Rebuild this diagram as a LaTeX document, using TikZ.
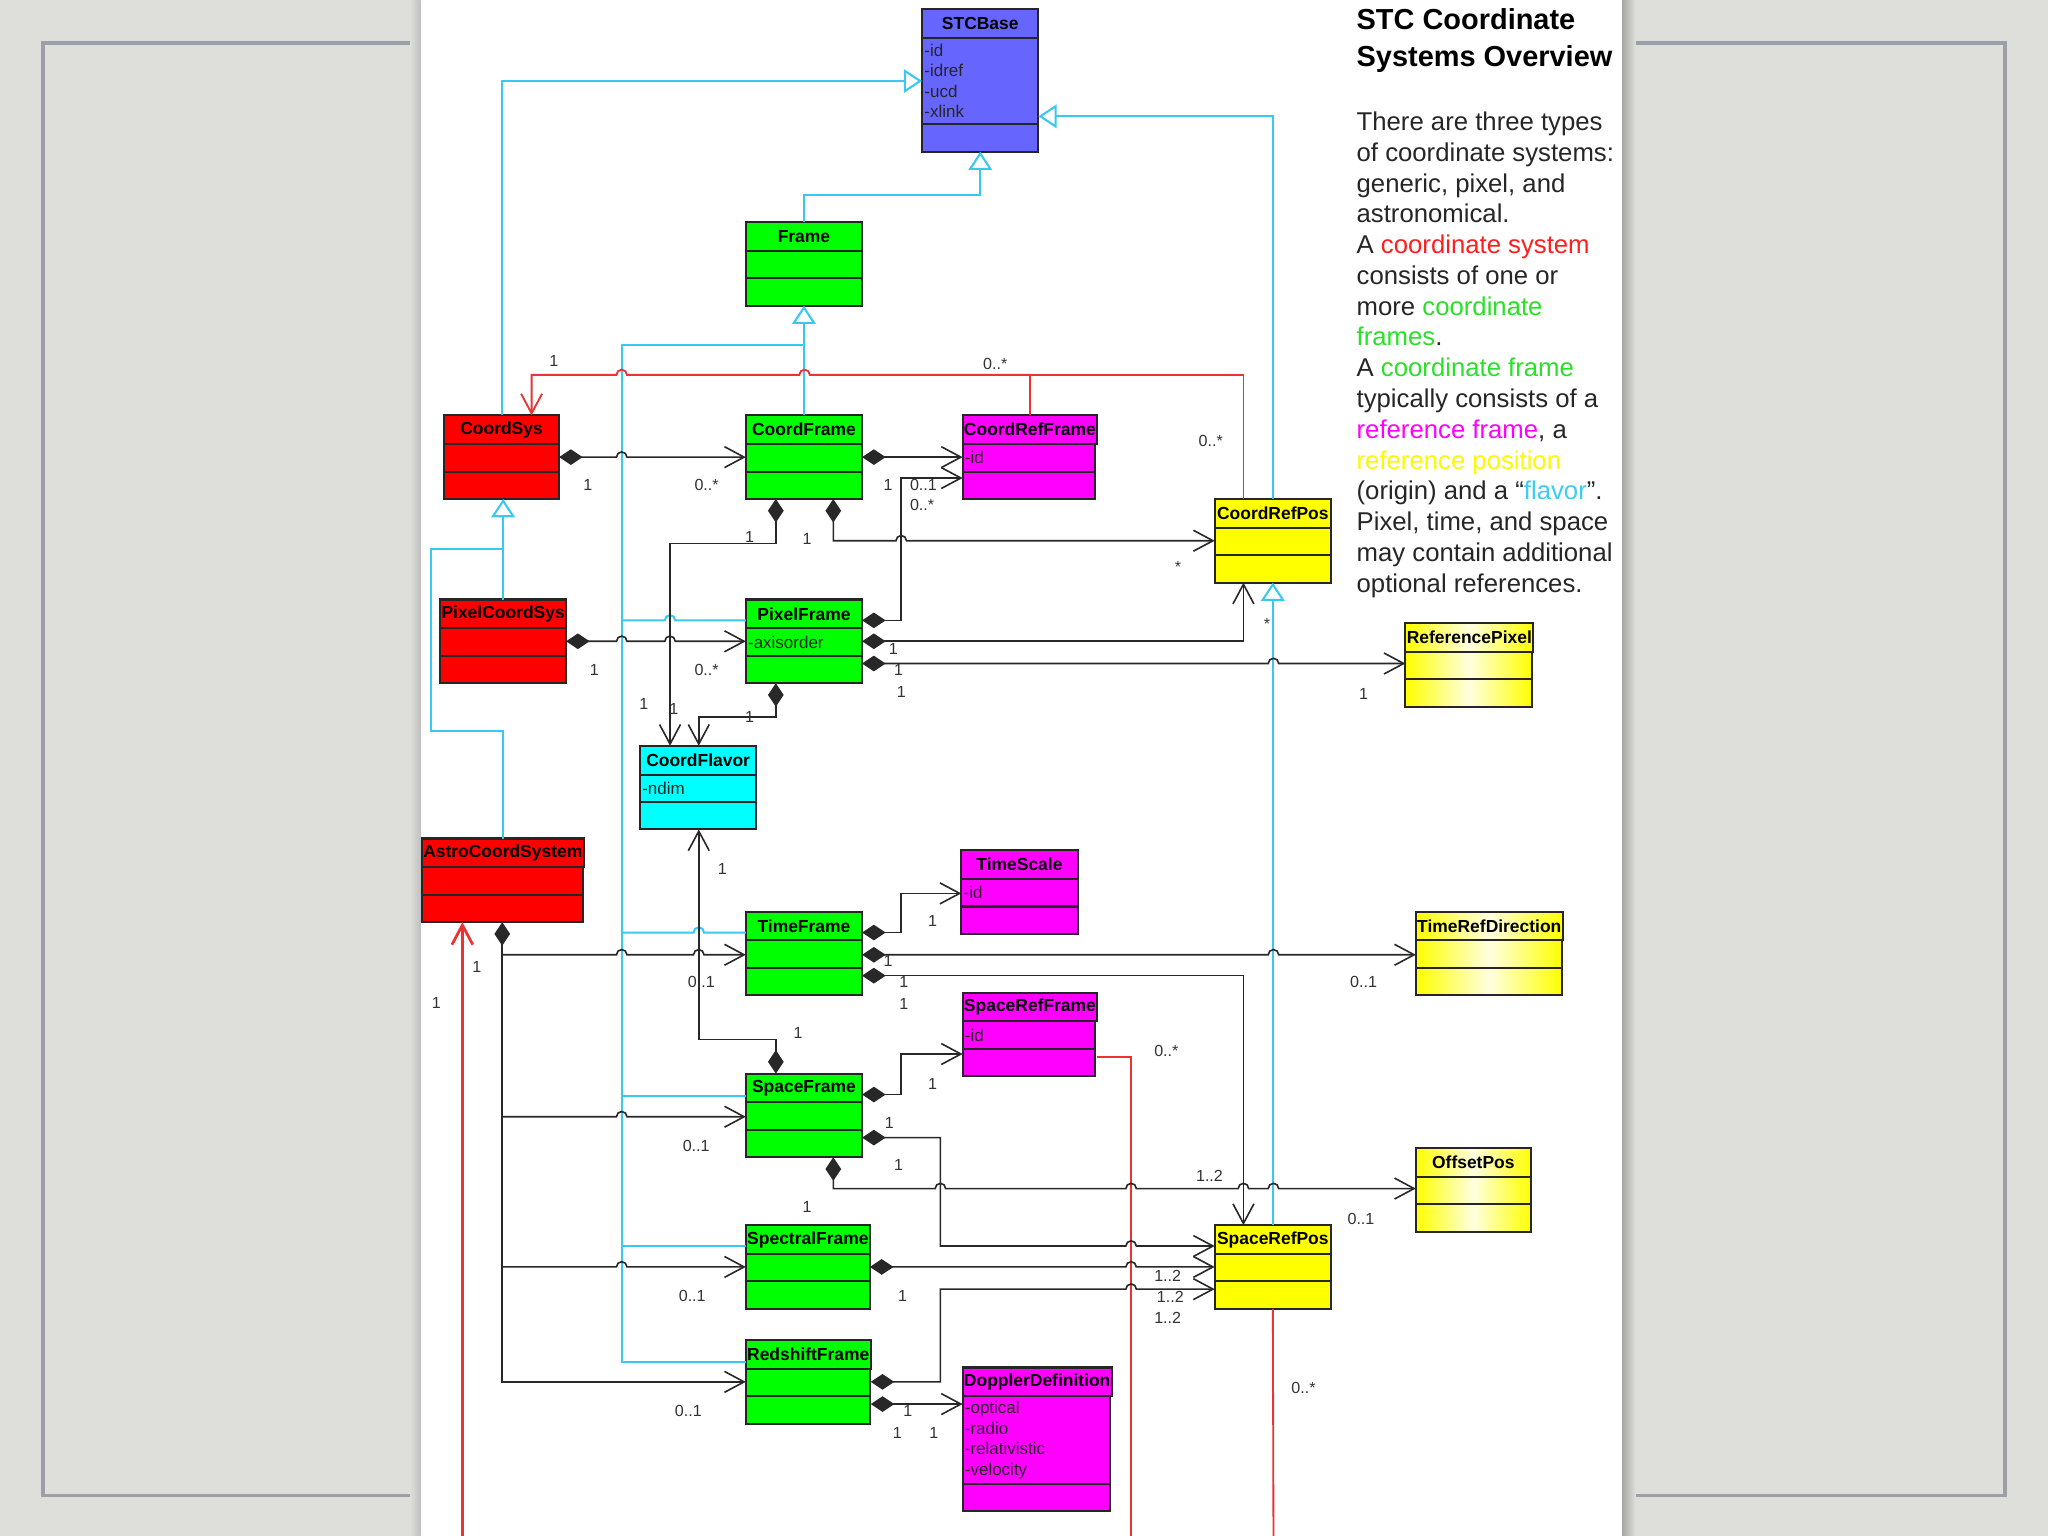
\documentclass[tikz,border=0pt]{standalone}
\usepackage{fontspec}
\setmainfont{Liberation Sans}
\usetikzlibrary{arrows.meta}

% Cores da figura
\definecolor{deskgray}{RGB}{222,223,218}
\definecolor{framegray}{RGB}{158,158,166}
\definecolor{boxblue}{RGB}{102,102,255}
\definecolor{boxgreen}{RGB}{0,255,0}
\definecolor{boxred}{RGB}{255,0,0}
\definecolor{boxmagenta}{RGB}{255,0,255}
\definecolor{boxyellow}{RGB}{255,255,0}
\definecolor{boxcyan}{RGB}{0,255,255}
\definecolor{inhcyan}{RGB}{56,200,240}
\definecolor{assocred}{RGB}{236,50,50}
\definecolor{linegray}{RGB}{40,40,40}
\definecolor{txtred}{RGB}{255,30,30}
\definecolor{txtgreen}{RGB}{40,225,40}
\definecolor{txtmagenta}{RGB}{255,0,255}
\definecolor{txtyellow}{RGB}{250,250,0}
\definecolor{txtcyan}{RGB}{60,205,245}

% Fontes
\newcommand{\classtitlefont}{\fontsize{3.8}{4.4}\selectfont\bfseries}
\newcommand{\attrfont}{\fontsize{3.7}{4.47}\selectfont}
\newcommand{\multfont}{\fontsize{3.5}{4}\selectfont}

\tikzset{
  classbox/.style={draw=black!85, line width=0.45pt, outer sep=0pt,
    inner xsep=0.3pt, inner ysep=0pt},
  attrtext/.style={font=\attrfont, inner sep=0.3pt, align=left, text=black!85},
  yellowshade/.style={left color=boxyellow, right color=boxyellow,
    middle color=boxyellow!12},
  inherit/.style={inhcyan, line width=0.45pt,
    -{Triangle[open, fill=white, length=0.14cm, width=0.18cm]}},
  cyanline/.style={inhcyan, line width=0.45pt},
  redline/.style={assocred, line width=0.4pt},
  redarrow/.style={redline, {Straight Barb[length=0.15cm, width=0.16cm]}-},
  assoc/.style={linegray, line width=0.35pt,
    -{Straight Barb[length=0.15cm, width=0.16cm]}},
  comp/.style={linegray, line width=0.35pt,
    {Diamond[length=0.18cm, width=0.12cm]}-{Straight Barb[length=0.15cm, width=0.16cm]}},
  mult/.style={font=\multfont, inner sep=0pt, text=black!80},
  desc/.style={font=\fontsize{5.6}{6.7}\selectfont, align=left, inner sep=0pt,
    anchor=north west, text=black!85},
}

% Classe UML: nome, preenchimento, canto, largura, altura dos atributos, titulo, atributos
\newcommand{\umlclass}[7]{%
  \node[classbox, #2, minimum width=#4, minimum height=0.22cm,
        font=\classtitlefont, anchor=north west] (#1) at (#3) {#6};
  \node[classbox, #2, minimum width=#4, minimum height=#5,
        anchor=north west] (#1-a) at (#1.south west) {};
  \node[attrtext, anchor=west] (#1-t) at (#1-a.west) {#7};
  \node[classbox, #2, minimum width=#4, minimum height=0.21cm,
        anchor=north west] (#1-o) at (#1-a.south west) {};
}

% Salto de linha num cruzamento
\newcommand{\linehop}[1]{-- ([xshift=-0.04cm]#1) arc[start angle=180, end angle=0, radius=0.04cm]}

\begin{document}
\begin{tikzpicture}[x=0.01cm, y=-0.01cm]
  % Mesa, moldura e folha branca
  \useasboundingbox (0,0) rectangle (1568,1176);
  \fill[deskgray] (0,0) rectangle (1568,1176);
  \draw[framegray, line width=0.7pt] (33,33) rectangle (1535,1145);
  \shade[left color=deskgray, right color=black!25] (314,0) rectangle (322,1176);
  \shade[left color=black!35, right color=deskgray] (1242,0) rectangle (1252,1176);
  \fill[white] (322,0) rectangle (1242,1176);

  % Texto explicativo
  \node[font=\fontsize{6.3}{8}\selectfont\bfseries, align=left, inner sep=0pt,
        anchor=north west] (title) at (1038,6) {STC Coordinate\\Systems Overview};
  \node[desc] (desc) at (1038,85) {There are three types\\
    of coordinate systems:\\
    generic, pixel, and\\
    astronomical.\\
    A \textcolor{txtred}{coordinate system}\\
    consists of one or\\
    more \textcolor{txtgreen}{coordinate}\\
    \textcolor{txtgreen}{frames}.\\
    A \textcolor{txtgreen}{coordinate frame}\\
    typically consists of a\\
    \textcolor{txtmagenta}{reference frame}, a\\
    \textcolor{txtyellow}{reference position}\\
    (origin) and a \textquotedblleft\textcolor{txtcyan}{flavor}\textquotedblright.\\
    Pixel, time, and space\\
    may contain additional\\
    optional references.};

  % Classes
  \umlclass{stc}{fill=boxblue}{706,7}{0.89cm}{0.66cm}{STCBase}{-id\\-idref\\-ucd\\-xlink}
  \umlclass{frame}{fill=boxgreen}{571,170}{0.89cm}{0.21cm}{Frame}{}
  \umlclass{cs}{fill=boxred}{340,318}{0.88cm}{0.21cm}{CoordSys}{}
  \umlclass{cf}{fill=boxgreen}{571,318}{0.89cm}{0.21cm}{CoordFrame}{}
  \umlclass{crf}{fill=boxmagenta}{737,318}{1.01cm}{0.21cm}{CoordRefFrame}{-id}
  \umlclass{crp}{fill=boxyellow}{930,382}{0.89cm}{0.21cm}{CoordRefPos}{}
  \umlclass{pcs}{fill=boxred}{337,459}{0.96cm}{0.21cm}{PixelCoordSys}{}
  \umlclass{pf}{fill=boxgreen}{571,459}{0.89cm}{0.21cm}{PixelFrame}{-axisorder}
  \umlclass{rpix}{yellowshade}{1076,477}{0.97cm}{0.21cm}{ReferencePixel}{}
  \umlclass{flav}{fill=boxcyan}{490,571}{0.89cm}{0.21cm}{CoordFlavor}{-ndim}
  \umlclass{acs}{fill=boxred}{323,642}{1.23cm}{0.21cm}{AstroCoordSystem}{}
  \umlclass{ts}{fill=boxmagenta}{736,651}{0.89cm}{0.21cm}{TimeScale}{-id}
  \umlclass{tf}{fill=boxgreen}{571,698}{0.89cm}{0.21cm}{TimeFrame}{}
  \umlclass{trd}{yellowshade}{1084,698}{1.12cm}{0.21cm}{TimeRefDirection}{}
  \umlclass{srf}{fill=boxmagenta}{737,760}{1.01cm}{0.21cm}{SpaceRefFrame}{-id}
  \umlclass{sf}{fill=boxgreen}{571,822}{0.89cm}{0.21cm}{SpaceFrame}{}
  \umlclass{opos}{yellowshade}{1084,879}{0.88cm}{0.21cm}{OffsetPos}{}
  \umlclass{spf}{fill=boxgreen}{571,938}{0.95cm}{0.21cm}{SpectralFrame}{}
  \umlclass{srp}{fill=boxyellow}{930,938}{0.89cm}{0.21cm}{SpaceRefPos}{}
  \umlclass{rsf}{fill=boxgreen}{571,1026}{0.95cm}{0.21cm}{RedshiftFrame}{}
  \umlclass{dop}{fill=boxmagenta}{737,1047}{1.13cm}{0.67cm}{DopplerDefinition}{-optical\\-radio\\-relativistic\\-velocity}

  % Generalizacoes (ciano)
  \draw[inherit] (cs.north) |- (stc-a.west);
  \draw[inherit] (crp.north) |- ([yshift=-0.27cm]stc-a.east);
  \draw[inherit] (frame.north) -- ++(0,-21) -| (stc-o.south);
  \draw[inherit] (cf.north) -- (frame-o.south);
  \draw[inherit] (pcs.north) -- (pcs.north |- cs-o.south);
  \draw[inherit] (srp.north) -- (crp-o.south);
  \draw[cyanline] (acs.north) |- (330,560) |- (pcs.north |- 0,420);
  \coordinate (trunk) at (476,264);
  \draw[cyanline] (cf.north |- trunk) -- (trunk) |- ([yshift=-0.06cm]rsf.west);
  \draw[cyanline] (trunk |- 0,475) \linehop{513,475} -- (pf.west |- 0,475);
  \draw[cyanline] (trunk |- 0,714) \linehop{535,714} -- (tf.west |- 0,714);
  \draw[cyanline] (trunk |- 0,839) -- (sf.west |- 0,839);
  \draw[cyanline] (trunk |- 0,954) -- (spf.west |- 0,954);

  % Associacoes (vermelho)
  \draw[redarrow] (cs.north -| 407,0) -- (407,287) \linehop{476,287} \linehop{616,287} -| (crf.north);
  \draw[redline] (crf.north |- 0,287) -| (crp.north -| 952,0);
  \coordinate (cutA) at (866,1176);
  \coordinate (cutB) at (975,1176);
  \coordinate (cutC) at (354,1176);
  \draw[redline] (srf.east |- 0,809) -| (cutA);
  \draw[redline] (srp-o.south) -- (cutB);
  \draw[redarrow, line width=0.6pt] (acs-o.south -| cutC) -- (cutC);

  % Composicoes (preto)
  \draw[comp] (cs.east |- 0,350) \linehop{476,350} -- (cf.west |- 0,350);
  \draw[comp] (pcs.east |- 0,491) \linehop{476,491} \linehop{513,491} -- (pf.west |- 0,491);
  \draw[comp] (cf.east |- 0,350) -- (crf.west |- 0,350);
  \draw[comp] (cf-o.south -| 594,0) |- (513,416) -- (flav.north -| 513,0);
  \draw[comp] (cf-o.south -| 638,0) -- (638,414) \linehop{690,414} -- (crp.west |- 0,414);
  \draw[comp] (pf.east |- 0,475) -| (690,366) -- (crf.west |- 0,366);
  \draw[comp] (pf.east |- 0,491) -| (crp-o.south -| 952,0);
  \draw[comp] (pf.east |- 0,508) \linehop{975,508} -- (rpix.west |- 0,508);
  \draw[comp] (pf-o.south -| 594,0) |- (535,549) -- (flav.north -| 535,0);
  \draw[comp] (sf.north -| 594,0) |- (535,796) -- (flav-o.south -| 535,0);
  \draw[comp] (acs-o.south) |- (rsf.west |- 0,1058);
  \draw[assoc] (acs-o.south |- 0,731) \linehop{476,731} \linehop{535,731} -- (tf.west |- 0,731);
  \draw[assoc] (acs-o.south |- 0,855) \linehop{476,855} -- (sf.west |- 0,855);
  \draw[assoc] (acs-o.south |- 0,970) \linehop{476,970} -- (spf.west |- 0,970);
  \draw[comp] (tf.east |- 0,714) -| (690,684) -- (ts.west |- 0,684);
  \draw[comp] (tf.east |- 0,731) \linehop{975,731} -- (trd.west |- 0,731);
  \draw[comp] (tf.east |- 0,747) -| (srp.north -| 952,0);
  \draw[comp] (sf.east |- 0,838) -| (690,807) -- (srf.west |- 0,807);
  \draw[comp] (sf.east |- 0,871) -| (720,954) \linehop{866,954} -- (srp.west |- 0,954);
  \draw[comp] (sf-o.south -| 638,0) -- (638,910) \linehop{720,910} \linehop{866,910}
    \linehop{952,910} \linehop{975,910} -- (opos.west |- 0,910);
  \draw[comp] (spf.east |- 0,970) \linehop{866,970} -- (srp.west |- 0,970);
  \draw[comp] (rsf.east |- 0,1058) -| (720,987) \linehop{866,987} -- (srp.west |- 0,987);
  \draw[comp] (rsf.east |- 0,1075) -- (dop.west |- 0,1075);

  % Multiplicidades
  \foreach \px/\py/\mtext [count=\i] in {
    424/276/1, 762/279/0..*, 927/338/0..*, 450/371/1, 541/371/0..*,
    680/371/1, 707/371/0..1, 706/387/0..*, 574/411/1, 618/413/1,
    902/434/*, 970/478/*, 684/497/1, 688/513/1, 690/530/1, 455/513/1,
    541/513/0..*, 1044/531/1, 493/539/1, 516/543/1, 574/549/1,
    553/665/1, 714/705/1, 365/740/1, 334/768/1, 680/736/1, 537/752/0..1,
    692/752/1, 692/769/1, 1044/752/0..1, 611/791/1, 893/805/0..*,
    714/830/1, 681/860/1, 533/877/0..1, 688/892/1, 926/900/1..2,
    618/924/1, 1042/933/0..1, 894/977/1..2, 530/992/0..1, 691/992/1,
    896/993/1..2, 894/1009/1..2, 998/1063/0..*, 527/1080/0..1,
    695/1080/1, 687/1097/1, 715/1097/1}
    \node[mult] (mult\i) at (\px,\py) {\mtext};
\end{tikzpicture}
\end{document}
